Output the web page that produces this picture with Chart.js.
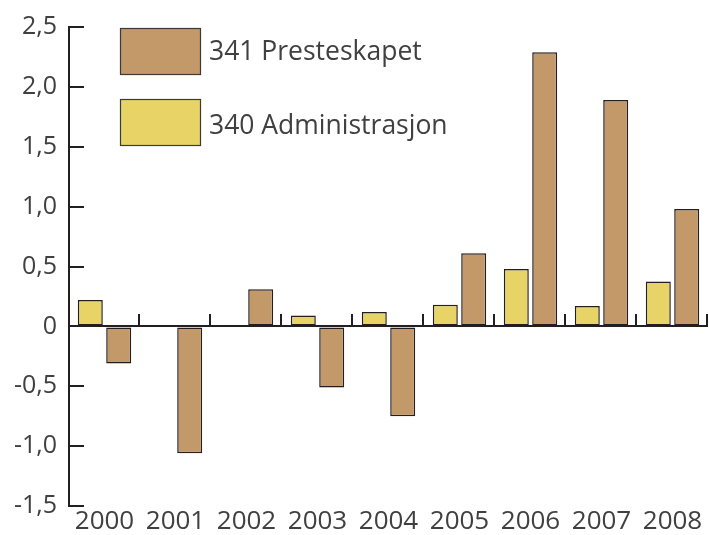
<!DOCTYPE html>
<html>
<head>
<meta charset="utf-8">
<script src="https://cdn.jsdelivr.net/npm/chart.js@4/dist/chart.umd.min.js"></script>
<style>
  body { margin: 0; background: #fff; }
</style>
</head>
<body>
<canvas id="chart" width="709" height="535"></canvas>
<script>
// Data (mill. kr, change per year)
const years = ['2000', '2001', '2002', '2003', '2004', '2005', '2006', '2007', '2008'];
const administrasjon = [0.22, 0.005, 0.01, 0.09, 0.12, 0.18, 0.48, 0.17, 0.375];
const presteskapet = [-0.31, -1.06, 0.31, -0.51, -0.75, 0.61, 2.29, 1.89, 0.98];
const yMin = -1.5;
const yMax = 2.5;
const yStep = 0.5;

const brown = '#c4996a';
const yellow = '#e8d366';
const ink = '#231f20';
const textGrey = '#404040';
const fontFamily = '"Open Sans", sans-serif';

// Short ticks pointing right from the y axis, drawn after the axes
const axisTicks = {
    id: 'axisTicks',
    afterDatasetsDraw(chart) {
        const ctx = chart.ctx;
        const ys = chart.scales.y;
        const left = chart.chartArea.left;
        ctx.save();
        ctx.fillStyle = '#231f20';
        ctx.globalAlpha = 1;
        for (let v = yMin; v <= yMax + 1e-9; v += yStep) {
            const py = Math.round(ys.getPixelForValue(v));
            ctx.fillRect(left - 1, py - 1, 16, 2);
        }
        ctx.restore();
    }
};

// Small separators on the zero line, and the legend
const extras = {
    id: 'extras',
    afterDraw(chart) {
        const ctx = chart.ctx;
        const xs = chart.scales.x;
        const ys = chart.scales.y;
        const area = chart.chartArea;
        ctx.save();
        ctx.fillStyle = ink;

        // y ticks again, in case the earlier hook is painted over
        for (let v = yMin; v <= yMax + 1e-9; v += yStep) {
            const py = Math.round(ys.getPixelForValue(v));
            ctx.fillRect(area.left - 1, py - 1, 16, 2);
        }

        // category separators rising from the zero line
        const zero = Math.round(ys.getPixelForValue(0));
        const w = (area.right - area.left) / years.length;
        for (let i = 1; i <= years.length; i++) {
            const px = Math.round(xs.getPixelForValue(i - 1) + w / 2) - 1;
            ctx.fillRect(px - 1, zero - 12, 2, 12);
        }

        // legend
        const items = [
            { label: chart.data.datasets[1].label, color: chart.data.datasets[1].backgroundColor, top: 28.5, textY: 52 },
            { label: chart.data.datasets[0].label, color: chart.data.datasets[0].backgroundColor, top: 99.5, textY: 126 }
        ];
        ctx.font = '26.5px ' + fontFamily;
        ctx.textBaseline = 'middle';
        ctx.textAlign = 'left';
        items.forEach(it => {
            ctx.fillStyle = it.color;
            ctx.fillRect(120.5, it.top, 80, 46);
            ctx.lineWidth = 1.2;
            ctx.strokeStyle = '#3a3a3a';
            ctx.strokeRect(120.5, it.top, 80, 46);
            ctx.fillStyle = textGrey;
            ctx.fillText(it.label, 209, it.textY);
        });
        ctx.restore();
    }
};

new Chart(document.getElementById('chart'), {
    type: 'bar',
    data: {
        labels: years,
        datasets: [{
            label: '340 Administrasjon',
            data: administrasjon,
            backgroundColor: yellow,
            borderColor: ink,
            borderWidth: 1.5,
            borderSkipped: false,
            categoryPercentage: 0.8,
            barPercentage: 0.88
        }, {
            label: '341 Presteskapet',
            data: presteskapet,
            backgroundColor: brown,
            borderColor: ink,
            borderWidth: 1.5,
            borderSkipped: false,
            categoryPercentage: 0.8,
            barPercentage: 0.88
        }]
    },
    options: {
        responsive: false,
        animation: false,
        layout: { padding: { top: 26, right: 1, left: 0, bottom: 0 } },
        plugins: {
            legend: { display: false },
            tooltip: { enabled: false }
        },
        scales: {
            x: {
                grid: { display: false, drawTicks: false },
                border: { display: false },
                ticks: {
                    color: textGrey,
                    font: { family: fontFamily, size: 26, lineHeight: 1 },
                    padding: 3,
                    maxRotation: 0,
                    autoSkip: false
                },
                afterFit(scale) { scale.height = 29; }
            },
            y: {
                min: yMin,
                max: yMax,
                grid: {
                    drawTicks: false,
                    color: ctx => ctx.tick && ctx.tick.value === 0 ? ink : 'rgba(0,0,0,0)',
                    lineWidth: 2
                },
                border: { display: true, color: ink, width: 2 },
                ticks: {
                    stepSize: yStep,
                    color: textGrey,
                    font: { family: fontFamily, size: 25 },
                    padding: 12,
                    callback: v => v === 0 ? '0' : v.toFixed(1).replace('.', ',')
                },
                afterFit(scale) { scale.width = 69; }
            }
        }
    },
    plugins: [axisTicks, extras]
});
</script>
</body>
</html>
